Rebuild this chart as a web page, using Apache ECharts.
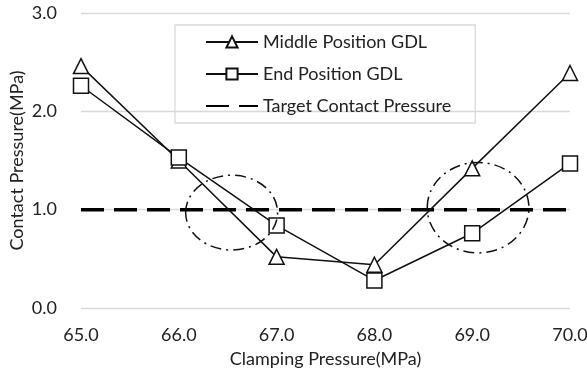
<!DOCTYPE html>
<html><head><meta charset="utf-8">
<script src="https://cdn.jsdelivr.net/npm/echarts@6/dist/echarts.min.js"></script>
<style>html,body{margin:0;padding:0;background:#fff}#c{width:587px;height:368px}</style>
</head><body><div id="c"></div>
<script>
const clamping = [65.0, 66.0, 67.0, 68.0, 69.0, 70.0];
const middleGDL = [2.46, 1.50, 0.52, 0.44, 1.42, 2.39];
const endGDL = [2.26, 1.53, 0.84, 0.28, 0.76, 1.47];
const targetPressure = [1.0, 1.0, 1.0, 1.0, 1.0, 1.0];
const yTicks = [0, 1, 2, 3];
// annotation ellipses in data units: [cx, cy, rx, ry]
const ellipses = [[66.54, 0.97, 0.47, 0.38], [69.06, 1.02, 0.52, 0.46]];

const FONT = 'Lato';
const FS = 18;
const chart = echarts.init(document.getElementById('c'));
const pair = arr => clamping.map((x, i) => [x, arr[i]]);
chart.setOption({
  animation: false,
  backgroundColor: '#fff',
  textStyle: {fontFamily: FONT},
  grid: {left: 81, right: 17, top: 13, bottom: 60, containLabel: false, outerBoundsMode: 'none'},
  legend: {
    orient: 'vertical', left: 175, top: 25,
    padding: [8, 24, 8, 30], itemGap: 14, itemWidth: 52, itemHeight: 14,
    borderColor: '#d9d9d9', borderWidth: 1.3,
    textStyle: {fontFamily: FONT, fontSize: FS, color: '#222'},
    data: ['Middle Position GDL', 'End Position GDL',
      {name: 'Target Contact Pressure', itemStyle: {opacity: 0}}]
  },
  xAxis: {
    type: 'value', min: 65, max: 70, interval: 1,
    name: 'Clamping Pressure(MPa)', nameLocation: 'middle', nameGap: 42,
    nameTextStyle: {fontFamily: FONT, fontSize: FS, color: '#222'},
    axisLine: {show: false}, axisTick: {show: false}, splitLine: {show: false},
    axisLabel: {fontFamily: FONT, fontSize: FS, color: '#222', margin: 18, formatter: v => v.toFixed(1)}
  },
  yAxis: {
    type: 'value', min: yTicks[0], max: yTicks[yTicks.length - 1], interval: 1,
    name: 'Contact Pressure(MPa)', nameLocation: 'middle', nameGap: 55, nameMoveOverlap: false,
    nameTextStyle: {fontFamily: FONT, fontSize: FS, color: '#222'},
    axisLine: {show: false}, axisTick: {show: false},
    splitLine: {lineStyle: {color: '#d9d9d9', width: 1.3}},
    axisLabel: {fontFamily: FONT, fontSize: FS, color: '#222', margin: 24, formatter: v => v.toFixed(1)}
  },
  series: [
    {name: 'Middle Position GDL', type: 'line', data: pair(middleGDL),
     symbol: 'triangle', symbolSize: 15,
     itemStyle: {color: '#fff', borderColor: '#111', borderWidth: 1.5},
     lineStyle: {color: '#111', width: 1.5}, z: 3},
    {name: 'End Position GDL', type: 'line', data: pair(endGDL),
     symbol: 'rect', symbolSize: 15,
     itemStyle: {color: '#fff', borderColor: '#111', borderWidth: 1.5},
     lineStyle: {color: '#111', width: 1.5}, z: 3},
    {name: 'Target Contact Pressure', type: 'line', data: pair(targetPressure),
     symbol: 'none', itemStyle: {color: '#000'},
     lineStyle: {color: '#000', width: 3.5, type: [23, 10]}, z: 2}
  ]
});
const gfx = ellipses.map(([cx, cy, rx, ry]) => {
  const c = chart.convertToPixel({gridIndex: 0}, [cx, cy]);
  const e = chart.convertToPixel({gridIndex: 0}, [cx + rx, cy + ry]);
  return {type: 'ellipse', shape: {cx: c[0], cy: c[1], rx: Math.abs(e[0] - c[0]), ry: Math.abs(c[1] - e[1])},
    style: {fill: null, stroke: '#111', lineWidth: 1.5, lineDash: [11, 5, 2, 5]}, z: 10};
});
chart.setOption({graphic: gfx});
</script></body></html>
